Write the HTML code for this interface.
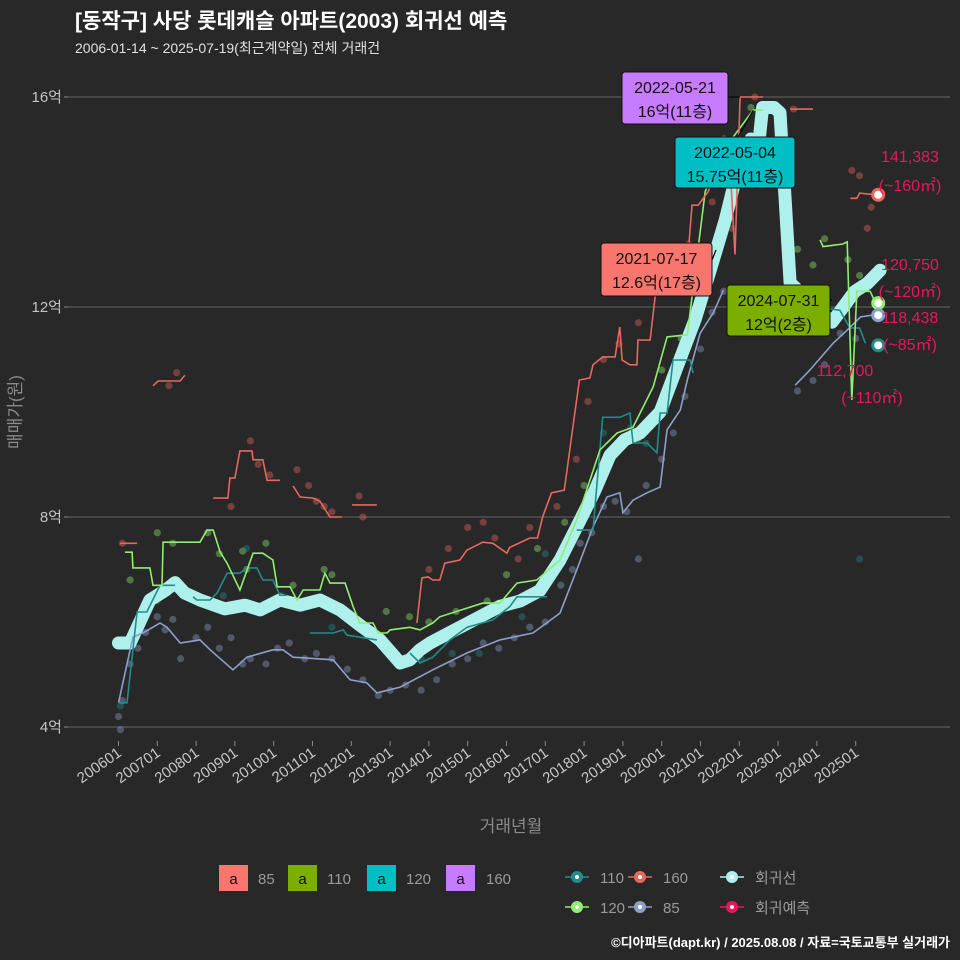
<!DOCTYPE html>
<html><head><meta charset="utf-8">
<style>
html,body{margin:0;padding:0;background:#282828;}
svg{display:block;font-family:"Liberation Sans","Noto Sans CJK KR",sans-serif;}
</style></head>
<body>
<svg id="chart" width="960" height="960" viewBox="0 0 960 960">
<rect width="960" height="960" fill="#282828"/>
<text x="75" y="28" font-size="21" font-weight="bold" fill="#ffffff">[동작구] 사당 롯데캐슬 아파트(2003) 회귀선 예측</text>
<text x="75" y="53" font-size="14" fill="#e0e0e0">2006-01-14 ~ 2025-07-19(최근계약일) 전체 거래건</text>
<g id="grid"></g>
<g id="marks"></g>
<g id="annot"></g>
<text transform="translate(21,412) rotate(-90)" text-anchor="middle" font-size="17" fill="#8a8a8a">매매가(원)</text>
<text x="511" y="832" text-anchor="middle" font-size="17" fill="#8a8a8a">거래년월</text>
<g id="legend"></g>
<text x="950" y="947" text-anchor="end" font-size="13" font-weight="bold" fill="#ffffff">©디아파트(dapt.kr) / 2025.08.08 / 자료=국토교통부 실거래가</text>
</svg>
<script>
// ---- data (t = decimal year, v = 억) ----
const yTicks = [4, 8, 12, 16];
const yTickLabels = ["4억", "8억", "12억", "16억"];
const xTicks = [2006,2007,2008,2009,2010,2011,2012,2013,2014,2015,2016,2017,2018,2019,2020,2021,2022,2023,2024,2025];
const xTickLabels = ["200601","200701","200801","200901","201001","201101","201201","201301","201401","201501","201601","201701","201801","201901","202001","202101","202201","202301","202401","202501"];

const regT = [2006.0,2006.3,2006.81,2007.2,2007.46,2007.71,2008.1,2008.74,2009.26,2009.65,2010.16,2010.68,2011.19,2011.71,2012.22,2012.74,2013.26,2013.51,2013.77,2014.03,2014.54,2015.06,2015.83,2016.35,2016.86,2017.38,2017.9,2018.28,2018.67,2019.05,2019.44,2019.96,2020.47,2020.86,2021.25,2021.64,2022.02,2022.3,2022.5,2022.6,2022.9,2023.05,2023.31,2024.39,2024.98,2025.3,2025.63];
const regV = [5.6,5.6,6.42,6.6,6.75,6.55,6.42,6.25,6.32,6.23,6.42,6.32,6.42,6.23,5.94,5.66,5.22,5.28,5.47,5.6,5.8,6.0,6.3,6.4,6.6,7.18,7.94,8.51,9.18,9.47,9.6,10.0,11.0,11.76,12.7,13.66,14.8,15.2,15.1,15.8,15.8,15.7,12.46,11.71,12.3,12.45,12.7];

const s85T = [2006.0,2006.37,2006.63,2007.07,2007.25,2007.59,2008.1,2008.36,2008.95,2009.31,2009.98,2010.24,2010.5,2011.53,2011.97,2012.4,2012.66,2013.26,2014.1,2014.98,2015.83,2016.68,2017.38,2017.81,2018.23,2018.59,2018.92,2019.0,2019.26,2019.62,2019.96,2020.14,2020.48,2020.66,2020.99,2021.33,2021.59,null,2023.44,2023.82,2024.42,2024.78,2025.12,2025.45];
const s85V = [4.46,5.71,5.79,5.98,5.9,5.6,5.66,5.47,5.09,5.33,5.47,5.47,5.33,5.28,4.9,4.84,4.65,4.76,5.09,5.41,5.66,5.79,6.17,6.99,7.81,8.38,8.46,8.08,8.32,8.46,8.57,9.66,10.04,10.61,11.5,11.89,12.32,null,10.51,10.8,11.31,11.56,11.81,11.85];

const s120T = [2006.17,2006.35,2006.37,2006.81,2006.89,2007.12,2007.15,2008.1,2008.28,2008.44,2008.62,2008.8,2009.13,2009.47,2009.72,2009.98,2010.09,2010.42,2010.6,2010.76,2011.19,2011.32,2011.45,2011.84,2012.05,2012.22,2012.56,2012.69,2012.92,2013.0,2013.51,2013.77,2014.1,2014.28,2015.39,2015.83,2016.27,2016.78,2017.38,2017.81,2018.15,2018.41,2018.85,2019.26,2019.78,2020.14,2020.66,2021.12,2021.6,2022.36,2022.61,null,2024.08,2024.16,2024.67,2024.78,2024.9,2025.03,2025.37,2025.5];
const s120V = [7.33,7.33,7.03,7.03,6.7,6.7,7.52,7.52,7.75,7.75,7.33,7.12,6.61,7.31,7.31,7.18,6.67,6.67,6.42,6.61,6.61,6.93,6.74,6.74,6.29,5.98,5.98,5.79,5.79,5.85,5.9,5.85,5.98,6.1,6.36,6.36,6.74,6.8,7.18,7.94,8.7,9.28,9.6,9.71,10.48,11.43,11.47,14.2,15.0,15.75,15.75,null,13.28,13.15,13.2,13.24,10.23,12.3,12.3,12.1];

const s110T = [2006.0,2006.22,2006.48,2006.73,2007.07,2007.46,null,2007.92,2008.02,2008.36,2008.54,2008.8,2009.13,2009.31,2009.57,2009.72,2009.98,2010.16,2010.34,null,2010.93,2011.53,2011.79,2011.89,2012.66,null,2013.51,2013.77,2014.1,2014.54,2014.98,2015.65,2016.08,2016.27,2017.04,null,2017.81,2018.23,2018.48,2018.92,2019.18,2019.26,2019.62,2019.88,2019.96,2020.14,2020.29,2020.73,2020.81,null,2024.16,2024.59,2024.85,2025.1,2025.25];
const s110V = [4.46,4.46,6.19,6.19,6.7,6.7,null,6.48,6.42,6.42,6.55,6.93,6.93,7.03,7.03,6.8,6.8,6.51,6.51,null,5.79,5.79,5.85,5.75,5.66,null,5.41,5.22,5.33,5.66,5.9,6.04,6.29,6.48,6.48,null,7.75,7.75,9.9,9.9,9.98,9.41,9.41,9.22,9.98,9.98,10.99,10.99,10.74,null,11.98,11.94,11.6,11.6,11.31];

const s160T = [2006.04,2006.48,null,2006.89,2007.02,2007.59,2007.71,null,2008.44,2008.82,2008.87,2009.0,2009.13,2009.44,2009.47,2009.72,2009.83,2010.16,null,2010.5,2010.68,2011.02,2011.19,2011.45,2011.76,null,2012.02,2012.66,null,2013.69,2013.82,2013.98,2014.1,2014.28,2014.41,2014.8,2014.98,2015.39,2015.65,2016.01,2016.08,2016.6,2016.8,2016.93,2017.16,2017.49,2017.7,2017.88,2018.15,2018.23,2018.48,2018.8,2018.92,2018.98,2019.18,2019.36,2019.39,2019.7,2019.83,2019.88,2020.2,2020.68,2020.78,2020.94,2021.2,2021.37,2021.6,2021.76,2021.89,2022.02,2022.61,null,2023.31,2023.9,null,2024.86,2025.03,2025.1,2025.45];
const s160V = [7.5,7.5,null,10.5,10.59,10.59,10.7,null,8.36,8.36,8.74,8.74,9.26,9.26,9.09,9.09,8.7,8.7,null,8.59,8.38,8.36,8.3,8.0,8.0,null,8.23,8.23,null,5.98,6.84,6.86,6.8,6.8,7.12,7.18,7.37,7.52,7.5,7.31,7.42,7.6,7.6,8.0,8.46,8.51,9.66,10.61,10.65,10.9,11.05,11.05,11.62,10.99,10.9,10.9,11.37,11.37,12.19,12.51,12.6,13.0,13.94,13.94,14.2,14.5,15.0,14.7,13.0,16.0,16.0,null,15.77,15.77,null,14.07,14.07,14.17,14.14];

const p85T = [2006.0,2006.05,2006.1,2006.3,2006.5,2006.7,2007.0,2007.2,2007.4,2007.6,2008.0,2008.3,2008.6,2008.9,2009.2,2009.4,2009.8,2010.1,2010.4,2010.8,2011.1,2011.5,2011.9,2012.3,2012.7,2013.0,2013.4,2013.8,2014.2,2014.6,2015.0,2015.4,2015.8,2016.2,2016.6,2017.0,2017.4,2017.7,2017.9,2018.2,2018.5,2018.8,2019.1,2019.4,2019.6,2020.0,2020.3,2020.6,2021.0,2021.3,2021.6,2023.5,2023.9,2024.2,2024.6,2025.0];
const p85V = [4.2,3.95,4.5,5.2,5.5,5.8,6.1,5.85,6.05,5.3,5.7,5.9,5.5,5.7,5.2,5.3,5.2,5.5,5.6,5.3,5.4,5.3,5.1,4.9,4.6,4.7,4.8,4.7,4.9,5.2,5.3,5.6,5.5,5.7,5.9,6.0,6.7,7.0,7.5,7.7,8.2,8.3,8.1,7.2,8.6,9.1,9.6,10.3,11.2,11.9,12.3,10.4,10.6,10.9,11.5,11.4];
const p120T = [2006.3,2007.0,2007.4,2008.3,2008.6,2009.2,2009.3,2009.8,2010.5,2011.3,2011.5,2012.2,2012.9,2013.5,2014.0,2014.7,2015.5,2016.0,2016.8,2017.5,2018.0,2018.6,2019.4,2020.0,2020.5,2021.2,2021.6,2022.3,2023.5,2023.9,2024.2,2024.8,2025.1];
const p120V = [6.8,7.7,7.5,7.7,7.3,7.35,7.0,7.5,6.7,7.0,6.9,6.0,6.2,6.1,6.0,6.2,6.4,6.9,7.4,7.9,8.6,9.2,9.5,10.8,11.4,14.4,15.2,15.8,13.1,12.8,13.3,12.9,12.6];
const p160T = [2006.1,2007.3,2007.5,2008.9,2009.4,2009.6,2009.9,2010.6,2010.9,2011.1,2011.3,2011.5,2012.2,2012.3,2014.0,2014.5,2015.0,2015.4,2015.7,2016.3,2016.6,2017.3,2017.8,2018.1,2018.5,2018.9,2019.4,2019.8,2020.7,2021.3,2021.8,2022.4,2023.4,2024.9,2025.1,2025.3,2025.4];
const p160V = [7.5,10.5,10.75,8.2,9.45,9.0,8.8,8.9,8.6,8.3,8.2,8.1,8.4,8.0,7.0,7.4,7.8,7.9,7.6,7.2,7.8,8.2,9.1,10.2,11.0,11.3,11.7,12.5,13.2,14.0,13.5,16.0,15.77,14.6,14.5,13.5,13.9];
const p110T = [2006.05,2007.0,2008.7,2009.3,2010.2,2011.5,2013.8,2014.6,2015.3,2016.4,2017.0,2018.5,2019.2,2019.6,2020.5,2024.6,2025.1];
const p110V = [4.4,6.4,6.5,7.4,6.5,5.9,5.3,5.4,5.4,6.1,7.3,9.6,9.7,9.4,11.2,11.9,7.2];

const predT = 2025.58;
const predNames = ["160","120","85","110"];
const predV = [14.1383,12.075,11.8438,11.27];

// ---- scales ----
const xS = t => 118.5 + (t - 2006) * 38.8;
const yS = v => 97 + (16 - v) * 52.5;
const NS = "http://www.w3.org/2000/svg";
function mk(tag, attrs, parent){const e=document.createElementNS(NS,tag);for(const k in attrs)e.setAttribute(k,attrs[k]);parent.appendChild(e);return e;}

const grid = document.getElementById('grid');
yTicks.forEach((v,i)=>{
  const l = mk('line',{x1:68,x2:950,y1:yS(v),y2:yS(v),stroke:'#575757','stroke-width':1.2},grid);
  
  
  const tk = mk('line',{x1:64,x2:68,y1:yS(v),y2:yS(v),stroke:'#8a8a8a'},grid);
  
  
  const tx = mk('text',{x:62,y:yS(v)+5,'text-anchor':'end','font-size':15,fill:'#c4c4c4'},grid);
  tx.textContent = yTickLabels[i];
  
  
});
xTicks.forEach((t,i)=>{
  const x = xS(t);
  const tk = mk('line',{x1:x,x2:x,y1:741,y2:746,stroke:'#8a8a8a'},grid);
  
  
  const tx = mk('text',{transform:`translate(${x+4},${755}) rotate(-35)`,'text-anchor':'end','font-size':15,fill:'#c8c8c8'},grid);
  tx.textContent = xTickLabels[i];
  
  
});

const marks = document.getElementById('marks');
function pathFrom(T,V){let d='',pen=false;for(let i=0;i<T.length;i++){if(T[i]===null){pen=false;continue;}d+=(pen?'L':'M')+xS(T[i]).toFixed(1)+','+yS(V[i]).toFixed(1);pen=true;}return d;}
function pts(T,V,color,name){T.forEach((t,i)=>{const c=mk('circle',{cx:xS(t),cy:yS(V[i]),r:3.6,fill:color,'fill-opacity':0.4},marks);});}
pts(p85T,p85V,'#8da0cb','point-85');
pts(p120T,p120V,'#90ee70','point-120');
pts(p160T,p160V,'#e8675f','point-160');
pts(p110T,p110V,'#238b8b','point-110');
const reg = mk('path',{d:pathFrom(regT,regV),fill:'none',stroke:'#aef0ec','stroke-width':13,'stroke-linejoin':'round','stroke-linecap':'round'},marks);


function line(T,V,color,name){const p=mk('path',{d:pathFrom(T,V),fill:'none',stroke:color,'stroke-width':1.6},marks);}
line(s85T,s85V,'#8da0cb','line-85');
line(s110T,s110V,'#238b8b','line-110');
line(s120T,s120V,'#90ee70','line-120');
line(s160T,s160V,'#e8675f','line-160');

const predColors = ['#e8675f','#90ee70','#8da0cb','#238b8b'];
predV.forEach((v,i)=>{
  const c = mk('circle',{cx:xS(predT),cy:yS(v),r:5.5,fill:'#ffffff',stroke:predColors[i],'stroke-width':3},marks);
  
  
});

// annotations
const an = document.getElementById('annot');
function box(x,y,w,h,fill,l1,l2,name,lx1,ly1,lx2,ly2){
  const g = mk('g',{},an);
  
  
  mk('line',{x1:lx1,y1:ly1,x2:lx2,y2:ly2,stroke:'#000','stroke-width':1.2},g);
  mk('rect',{x:x,y:y,width:w,height:h,rx:3,fill:fill,stroke:'#111','stroke-width':1},g);
  const a = mk('text',{x:x+w/2,y:y+21,'text-anchor':'middle','font-size':16,fill:'#111'},g); a.textContent=l1;
  const b = mk('text',{x:x+w/2,y:y+45,'text-anchor':'middle','font-size':16,fill:'#111'},g); b.textContent=l2;
}
box(622,72,106,52,'#c77cff','2022-05-21','16억(11층)','label-2022-05-21',728,97,xS(2022.02),yS(16));
box(675,137,120,51,'#00bfc4','2022-05-04','15.75억(11층)','label-2022-05-04',738,137,xS(2022.36),yS(15.75));
box(601,243,111,53,'#f8766d','2021-07-17','12.6억(17층)','label-2021-07-17',712,260,716,250);
box(727,285,103,51,'#7cae00','2024-07-31','12억(2층)','label-2024-07-31',830,300,832,300);
const pl = [["141,383",910,162],["(~160㎡)",910,191],["120,750",910,270],["(~120㎡)",910,297],["118,438",910,323],["(~85㎡)",910,350],["112,700",845,376],["(~110㎡)",872,403]];
pl.forEach(p=>{const t=mk('text',{x:p[1],y:p[2],'text-anchor':'middle','font-size':16,fill:'#e8175d'},an);t.textContent=p[0];});

// legend
const lg = document.getElementById('legend');
const fk = [['85','#f8766d',219,258],['110','#7cae00',288,327],['120','#00bfc4',367,406],['160','#c77cff',446,486]];
fk.forEach(f=>{
  const g = mk('g',{},lg);
  
  
  mk('rect',{x:f[2],y:865,width:29,height:26,fill:f[1]},g);
  const a=mk('text',{x:f[2]+14.5,y:884,'text-anchor':'middle','font-size':15,fill:'#111'},g);a.textContent='a';
  const b=mk('text',{x:f[3],y:884,'font-size':15,fill:'#9a9a9a'},g);b.textContent=f[0];
});
const lk = [['110','#238b8b',565,877],['160','#e8675f',628,877],['회귀선','#aef0ec',720,877],['120','#90ee70',565,907],['85','#8da0cb',628,907],['회귀예측','#e8175d',720,907]];
lk.forEach(k=>{
  const g = mk('g',{},lg);
  
  
  mk('line',{x1:k[2],x2:k[2]+24,y1:k[3],y2:k[3],stroke:k[1],'stroke-width':1.6},g);
  mk('circle',{cx:k[2]+12,cy:k[3],r:6,fill:k[1]},g);
  mk('circle',{cx:k[2]+12,cy:k[3],r:2,fill:'#ffffff'},g);
  const t=mk('text',{x:k[2]+35,y:k[3]+6,'font-size':15,fill:'#9a9a9a'},g);t.textContent=k[0];
});
</script>
</body></html>
